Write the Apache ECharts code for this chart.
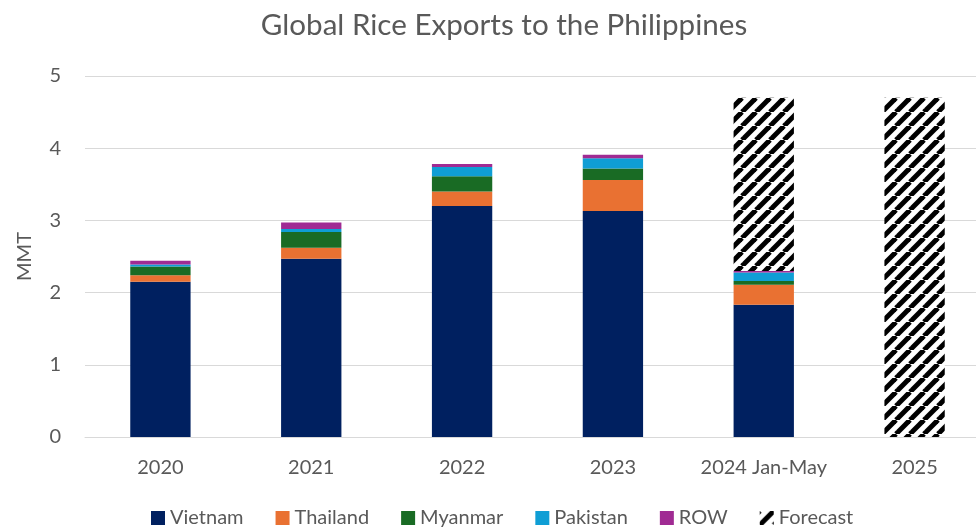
<!DOCTYPE html>
<html><head><meta charset="utf-8">
<script src="https://cdn.jsdelivr.net/npm/echarts@6/dist/echarts.min.js"></script>
<style>html,body{margin:0;padding:0;background:#fff}#c{width:976px;height:529px}</style>
</head><body><div id="c"></div>
<script>
const categories = ['2020','2021','2022','2023','2024 Jan-May','2025'];
const vietnam  = [2.15, 2.47, 3.20, 3.13, 1.83, null];
const thailand = [0.09, 0.15, 0.20, 0.43, 0.28, null];
const myanmar  = [0.12, 0.22, 0.21, 0.16, 0.05, null];
const pakistan = [0.03, 0.04, 0.13, 0.14, 0.12, null];
const row      = [0.05, 0.09, 0.04, 0.05, 0.02, null];
const forecast = [null, null, null, null, 2.40, 4.70];
const yTicks = [0,1,2,3,4,5];

// hatch pattern
const P = 14;
const pc = document.createElement('canvas');
pc.width = P; pc.height = P;
const px = pc.getContext('2d');
px.fillStyle = '#fff'; px.fillRect(0,0,P,P);
px.strokeStyle = '#000'; px.lineWidth = 5;
for (let o=-P;o<=2*P;o+=P){ px.beginPath(); px.moveTo(o,P); px.lineTo(o+P,0); px.stroke(); }

const font = 'Lato';
const mk = (name, data, color) => ({name, type:'bar', stack:'t', data, barWidth:'40%',
  itemStyle:{color}, emphasis:{disabled:true}});
const chart = echarts.init(document.getElementById('c'));
chart.setOption({
  animation:false,
  title:{text:'Global Rice Exports to the Philippines', left:499, textAlign:'center', top:5,
    textStyle:{fontFamily:font, fontSize:29.6, fontWeight:'normal', color:'#595959'}},
  grid:{left:85, width:905, top:76, bottom:92, outerBoundsMode:'none', containLabel:false},
  legend:{bottom:-4, left:146, itemWidth:14, itemHeight:14, itemGap:32,
    textStyle:{fontFamily:font, fontSize:20, color:'#595959'}, icon:'rect'},
  xAxis:{type:'category', data:categories,
    axisLine:{lineStyle:{color:'#d9d9d9'}}, axisTick:{show:false},
    axisLabel:{fontFamily:font, fontSize:20, color:'#595959', margin:21, interval:0, hideOverlap:false}},
  yAxis:{type:'value', min:0, max:5, interval:1, name:'MMT', nameLocation:'middle', nameGap:50,
    nameTextStyle:{fontFamily:font, fontSize:20, color:'#595959'},
    axisLabel:{fontFamily:font, fontSize:20, color:'#595959', margin:24,
      formatter:v=>yTicks.includes(v)?String(v):''},
    splitLine:{lineStyle:{color:'#d9d9d9'}}},
  series:[
    mk('Vietnam', vietnam, '#002060'),
    mk('Thailand', thailand, '#E97132'),
    mk('Myanmar', myanmar, '#196B24'),
    mk('Pakistan', pakistan, '#0F9ED5'),
    mk('ROW', row, '#A02B93'),
    mk('Forecast', forecast, {image:pc, repeat:'repeat'})
  ]
});
</script></body></html>
